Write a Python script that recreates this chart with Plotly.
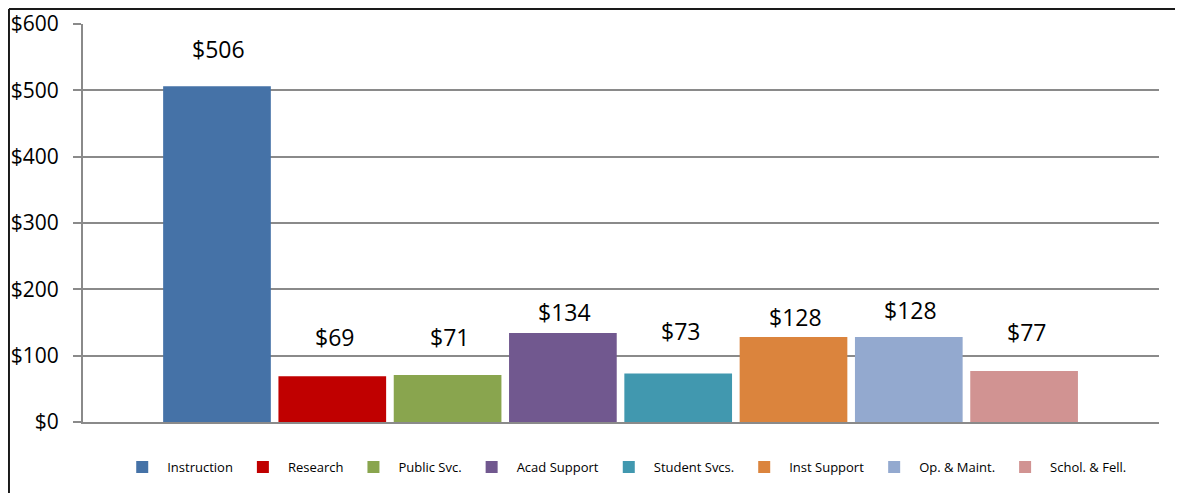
import plotly.graph_objects as go

categories = ["Instruction", "Research", "Public Svc.", "Acad Support",
              "Student Svcs.", "Inst Support", "Op. & Maint.", "Schol. & Fell."]
values = [506, 69, 71, 134, 73, 128, 128, 77]
colors = ["#4572A7", "#C00000", "#89A54E", "#71588F",
          "#4198AF", "#DB843D", "#93A9CF", "#D19392"]
y_ticks = [0, 100, 200, 300, 400, 500, 600]
y_tick_labels = ["$0", "$100", "$200", "$300", "$400", "$500", "$600"]

# pixel lift of each value label above its bar (labels were hand-placed)
label_lift = [37, 39, 38, 21, 43, 20, 27, 39]

FONT = "Open Sans"
fig = go.Figure()
for i, (name, v, c) in enumerate(zip(categories, values, colors)):
    fig.add_trace(go.Bar(x=[i], y=[v], name=name, marker_color=c,
                         marker_line_width=0, width=0.934))
    fig.add_annotation(x=i, y=v, text=f"${v}", showarrow=False,
                       yanchor="middle", yshift=label_lift[i], xshift=2,
                       font=dict(family=FONT, size=23, color="#000"))

fig.update_layout(
    width=1167, height=485,
    margin=dict(l=75, r=16, t=16, b=71, autoexpand=False),
    paper_bgcolor="white", plot_bgcolor="white",
    barmode="overlay",
    showlegend=True,
    legend=dict(orientation="h", x=0.503, xanchor="center", y=-0.113,
                yanchor="middle", font=dict(family=FONT, size=13, color="#000"),
                itemwidth=40, traceorder="normal"),
    xaxis=dict(range=[-1.162, 8.17], showticklabels=False, showgrid=False,
               zeroline=False, showline=True, linecolor="#8a8a8a", linewidth=2,
               ticks="", automargin=False),
    yaxis=dict(range=[0, 600], tickvals=y_ticks, ticktext=y_tick_labels,
               showgrid=True, gridcolor="#8a8a8a", gridwidth=1.5,
               zeroline=False, showline=True, linecolor="#8a8a8a", linewidth=2,
               ticks="outside", ticklen=8, tickcolor="#8a8a8a", tickwidth=1.5,
               ticklabelstandoff=10, automargin=False,
               tickfont=dict(family=FONT, size=21, color="#000")),
    font=dict(family=FONT),
)

# outer chart frame (top and left edges visible in the window)
fig.add_shape(type="line", xref="paper", yref="paper",
              x0=-0.0688, x1=1.03, y0=1.0377, y1=1.0377,
              line=dict(color="#1a1a1a", width=2))
fig.add_shape(type="line", xref="paper", yref="paper",
              x0=-0.0688, x1=-0.0688, y0=1.0377, y1=-0.25,
              line=dict(color="#1a1a1a", width=2))

fig.write_html("out.html")
